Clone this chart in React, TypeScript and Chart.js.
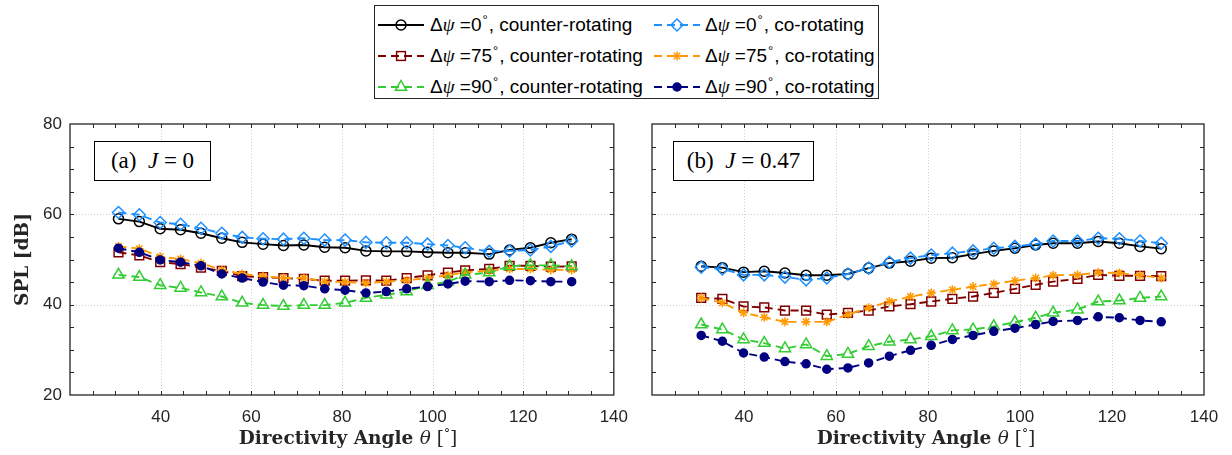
import React, { useEffect, useRef } from "react";
import { Chart, registerables } from "chart.js";
Chart.register(...registerables);

// ---------- data ----------
const THETA = [30.7, 35.3, 39.9, 44.4, 48.9, 53.5, 58.0, 62.6, 67.1, 71.6, 76.2, 80.7, 85.3, 89.8, 94.3, 98.9, 103.4, 107.2, 112.5, 117.0, 121.6, 126.1, 130.7];

const X_TICKS = [20, 40, 60, 80, 100, 120, 140];
const Y_TICKS = [20, 40, 60, 80];
const MINOR_STEP = 5;

// (a) J = 0
const A_CTR_0 = [59.0, 58.4, 56.8, 56.6, 55.8, 54.7, 53.8, 53.4, 53.1, 53.2, 52.7, 52.6, 51.9, 51.8, 51.8, 51.6, 51.5, 51.5, 51.2, 52.1, 52.6, 53.7, 54.5];
const A_CO_0 = [60.4, 59.9, 58.2, 57.8, 56.9, 55.8, 54.9, 54.6, 54.5, 54.7, 54.3, 54.3, 53.8, 53.7, 53.7, 53.4, 53.1, 52.6, 51.8, 51.9, 52.1, 52.9, 54.1];
const A_CTR_75 = [51.6, 50.9, 49.4, 49.0, 48.2, 47.5, 46.3, 46.1, 45.9, 45.7, 45.3, 45.3, 45.4, 45.3, 45.9, 46.5, 47.1, 47.6, 47.9, 48.6, 48.6, 48.4, 48.5];
const A_CO_75 = [52.9, 52.4, 50.6, 50.1, 49.2, 47.7, 46.8, 46.3, 45.9, 45.9, 45.1, 45.0, 44.8, 45.1, 45.4, 45.9, 46.5, 47.2, 47.5, 47.9, 47.9, 47.7, 47.7];
const A_CTR_90 = [46.6, 46.1, 44.3, 43.7, 42.7, 41.8, 40.4, 39.9, 39.7, 39.9, 39.9, 40.4, 41.5, 42.2, 42.9, 44.3, 45.1, 46.6, 47.1, 48.5, 48.7, 48.7, 48.5];
const A_CO_90 = [52.5, 51.6, 49.9, 49.4, 48.6, 46.8, 45.9, 45.0, 44.3, 44.2, 43.5, 43.2, 42.6, 42.9, 43.5, 44.0, 44.6, 45.2, 45.1, 45.4, 45.3, 45.1, 45.1];

// (b) J = 0.47
const B_CTR_0 = [48.5, 48.2, 47.2, 47.4, 47.0, 46.5, 46.5, 46.8, 48.1, 49.2, 49.6, 50.3, 50.4, 51.2, 51.9, 52.5, 53.2, 53.6, 53.6, 54.0, 53.6, 52.9, 52.4];
const B_CO_0 = [48.3, 47.9, 46.6, 46.6, 46.1, 45.5, 45.9, 46.8, 48.1, 49.4, 50.3, 51.0, 51.4, 51.9, 52.5, 52.9, 53.4, 54.1, 54.1, 54.7, 54.6, 54.1, 53.6];
const B_CTR_75 = [41.5, 41.3, 39.6, 39.4, 38.7, 38.7, 37.8, 38.2, 38.7, 39.6, 40.1, 40.7, 41.3, 41.8, 42.6, 43.5, 44.4, 45.1, 45.7, 46.6, 46.4, 46.4, 46.3];
const B_CO_75 = [41.5, 40.4, 38.2, 37.2, 36.2, 36.2, 36.2, 37.8, 39.3, 40.7, 41.8, 42.6, 43.3, 44.0, 44.6, 45.3, 45.9, 46.5, 46.6, 47.1, 47.0, 46.5, 45.9];
const B_CTR_90 = [35.6, 34.5, 32.3, 31.5, 30.3, 31.2, 28.6, 29.1, 30.8, 31.8, 32.3, 33.0, 34.3, 34.5, 35.2, 36.1, 37.1, 38.2, 38.9, 40.7, 40.9, 41.5, 41.8];
const B_CO_90 = [33.2, 31.9, 29.3, 28.4, 27.4, 26.9, 25.7, 26.0, 27.1, 28.6, 29.9, 31.0, 32.3, 33.2, 34.1, 34.8, 35.6, 36.3, 36.5, 37.3, 37.1, 36.5, 36.2];

const SERIES_ANGLE = ["0", "0", "75", "75", "90", "90"];
const SERIES_MODE = ["counter-rotating", "co-rotating", "counter-rotating", "co-rotating", "counter-rotating", "co-rotating"];

// ---------- styles ----------
const STYLES = [
  { color: "#000000", dash: [] as number[], pointStyle: "circle", r: 5, filled: false },
  { color: "#1E90FF", dash: [8, 5], pointStyle: "rectRot", r: 6, filled: false },
  { color: "#800000", dash: [8, 5], pointStyle: "rect", r: 6.2, filled: false },
  { color: "#FF9900", dash: [8, 5], pointStyle: "star", r: 4.5, filled: false },
  { color: "#33CC33", dash: [8, 5], pointStyle: "triangle", r: 6.5, filled: false },
  { color: "#000080", dash: [8, 5], pointStyle: "circle", r: 4, filled: true },
];

const AXIS_COLOR = "#262626";
const TITLE_FAMILY = "'DejaVu Serif', 'Liberation Serif', serif";
const TITLE_SIZE = 18.5;

const matlabAxes = {
  id: "matlabAxes",
  beforeDatasetsDraw(chart: any) {
    const { ctx, chartArea: a, scales } = chart;
    const x = scales.x, y = scales.y;
    ctx.save();
    ctx.strokeStyle = "#cfcfcf";
    ctx.lineWidth = 1;
    ctx.setLineDash([1, 2]);
    X_TICKS.forEach((v) => {
      if (v <= x.min || v >= x.max) return;
      const px = Math.round(x.getPixelForValue(v)) + 0.5;
      ctx.beginPath(); ctx.moveTo(px, a.top); ctx.lineTo(px, a.bottom); ctx.stroke();
    });
    Y_TICKS.forEach((v) => {
      if (v <= y.min || v >= y.max) return;
      const py = Math.round(y.getPixelForValue(v)) + 0.5;
      ctx.beginPath(); ctx.moveTo(a.left, py); ctx.lineTo(a.right, py); ctx.stroke();
    });
    ctx.restore();
  },
  afterDatasetsDraw(chart: any) {
    const { ctx, chartArea: a, scales } = chart;
    const x = scales.x, y = scales.y;
    const L = 4;
    ctx.save();
    ctx.strokeStyle = AXIS_COLOR;
    ctx.lineWidth = 1.3;
    ctx.setLineDash([]);
    ctx.strokeRect(a.left, a.top, a.right - a.left, a.bottom - a.top);
    ctx.lineWidth = 1;
    for (let v = x.min + MINOR_STEP; v < x.max; v += MINOR_STEP) {
      const px = Math.round(x.getPixelForValue(v)) + 0.5;
      ctx.beginPath();
      ctx.moveTo(px, a.bottom); ctx.lineTo(px, a.bottom - L);
      ctx.moveTo(px, a.top); ctx.lineTo(px, a.top + L);
      ctx.stroke();
    }
    for (let v = y.min + MINOR_STEP; v < y.max; v += MINOR_STEP) {
      const py = Math.round(y.getPixelForValue(v)) + 0.5;
      ctx.beginPath();
      ctx.moveTo(a.left, py); ctx.lineTo(a.left + L, py);
      ctx.moveTo(a.right, py); ctx.lineTo(a.right - L, py);
      ctx.stroke();
    }
    ctx.restore();
  },
};

function makeDatasets(series: number[][]) {
  return series.map((vals, i) => {
    const s = STYLES[i];
    return {
      label: `Δψ =${SERIES_ANGLE[i]}°, ${SERIES_MODE[i]}`,
      data: vals.map((v, k) => ({ x: THETA[k], y: v })),
      borderColor: s.color,
      borderWidth: 1.9,
      borderDash: s.dash,
      backgroundColor: s.color,
      pointStyle: s.pointStyle,
      pointRadius: s.r,
      pointBorderWidth: 1.5,
      pointBorderColor: s.color,
      pointBackgroundColor: s.filled ? s.color : "rgba(0,0,0,0)",
      tension: 0,
      order: series.length - i,
    };
  });
}

function makeConfig(series: number[][], showY: boolean, padding: any) {
  const tickFont = { family: "'Liberation Sans', Arial, sans-serif", size: 17 };
  const titleFont = { family: TITLE_FAMILY, size: TITLE_SIZE, weight: "bold" as const };
  return {
    type: "line" as const,
    data: { datasets: makeDatasets(series) },
    options: {
      animation: false,
      responsive: false,
      maintainAspectRatio: false,
      devicePixelRatio: 1,
      layout: { padding },
      plugins: { legend: { display: false }, tooltip: { enabled: false } },
      scales: {
        x: {
          type: "linear",
          min: 20,
          max: 140,
          afterBuildTicks: (s: any) => { s.ticks = X_TICKS.map((v) => ({ value: v })); },
          ticks: {
            font: tickFont,
            color: AXIS_COLOR,
            padding: 12,
            maxRotation: 0,
            autoSkip: false,
            callback: (v: any) => (v === 20 ? "" : String(v)),
          },
          grid: { display: false, drawTicks: false },
          border: { display: false },
          afterFit: (s: any) => { s.height = 60; },
        },
        y: {
          type: "linear",
          min: 20,
          max: 80,
          display: showY,
          afterBuildTicks: (s: any) => { s.ticks = Y_TICKS.map((v) => ({ value: v })); },
          ticks: { font: tickFont, color: AXIS_COLOR, padding: 8 },
          grid: { display: false, drawTicks: false },
          border: { display: false },
          title: {
            display: showY,
            text: "SPL [dB]",
            font: titleFont,
            color: AXIS_COLOR,
            padding: { top: 12, bottom: 0 },
          },
          afterFit: (s: any) => { if (showY) s.width = 70; },
        },
      },
    },
    plugins: [matlabAxes],
  };
}

function Panel({ series, showY, padding, left, width }: any) {
  const ref = useRef<HTMLCanvasElement | null>(null);
  useEffect(() => {
    const chart = new Chart(ref.current as HTMLCanvasElement, makeConfig(series, showY, padding) as any);
    return () => chart.destroy();
  }, []);
  return (
    <canvas
      ref={ref}
      width={width}
      height={455}
      style={{ position: "absolute", left, top: 0, width, height: 455 }}
    />
  );
}

function XTitle({ left, width }: any) {
  return (
    <div
      style={{
        position: "absolute",
        left,
        width,
        top: 426,
        height: 24,
        lineHeight: "24px",
        textAlign: "center",
        fontFamily: TITLE_FAMILY,
        fontSize: TITLE_SIZE,
        color: AXIS_COLOR,
        whiteSpace: "pre",
        zIndex: 2,
      }}
    >
      <b>Directivity Angle </b>
      <i>θ</i> [<sup style={{ fontSize: 12, verticalAlign: "6px", lineHeight: 0 }}>°</sup>]
    </div>
  );
}

function Marker({ i }: { i: number }) {
  const s = STYLES[i];
  const cx = 24, cy = 10;
  const stroke = s.color;
  const common = { stroke, strokeWidth: 1.5, fill: s.filled ? s.color : "none" };
  let m: any = null;
  if (s.pointStyle === "circle") m = <circle cx={cx} cy={cy} r={s.r} {...common} />;
  else if (s.pointStyle === "rectRot") m = <polygon points={`${cx},${cy - 6} ${cx + 6},${cy} ${cx},${cy + 6} ${cx - 6},${cy}`} {...common} />;
  else if (s.pointStyle === "rect") m = <rect x={cx - 4.4} y={cy - 4.4} width={8.8} height={8.8} {...common} />;
  else if (s.pointStyle === "triangle") m = <polygon points={`${cx},${cy - 6.5} ${cx + 5.6},${cy + 3.3} ${cx - 5.6},${cy + 3.3}`} {...common} />;
  else if (s.pointStyle === "star")
    m = (
      <g stroke={stroke} strokeWidth={1.5}>
        <line x1={cx - 4.5} y1={cy} x2={cx + 4.5} y2={cy} />
        <line x1={cx} y1={cy - 4.5} x2={cx} y2={cy + 4.5} />
        <line x1={cx - 3.2} y1={cy - 3.2} x2={cx + 3.2} y2={cy + 3.2} />
        <line x1={cx - 3.2} y1={cy + 3.2} x2={cx + 3.2} y2={cy - 3.2} />
      </g>
    );
  return (
    <svg width={48} height={20} style={{ display: "block" }}>
      <line x1={1} y1={cy} x2={47} y2={cy} stroke={stroke} strokeWidth={1.9} strokeDasharray={s.dash.length ? s.dash.join(",") : undefined} />
      {m}
    </svg>
  );
}

function Legend() {
  const rowsY = [25, 56, 87];
  const colSample = [377, 653];
  const colText = [430, 705];
  const items = SERIES_ANGLE.map((ang, i) => {
    const col = i % 2;
    const row = Math.floor(i / 2);
    return (
      <React.Fragment key={i}>
        <div style={{ position: "absolute", left: colSample[col], top: rowsY[row] - 10 }}>
          <Marker i={i} />
        </div>
        <div
          style={{
            position: "absolute",
            left: colText[col],
            top: rowsY[row] - 12,
            height: 24,
            lineHeight: "24px",
            fontFamily: "'Liberation Sans', Arial, sans-serif",
            fontSize: 19,
            whiteSpace: "nowrap",
            color: "#000",
          }}
        >
          Δ<span style={{ fontFamily: "'Liberation Serif', serif", fontStyle: "italic" }}>ψ</span> ={ang}
          <sup style={{ fontSize: 13, verticalAlign: "7px", lineHeight: 0, margin: "0 1px" }}>°</sup>, {SERIES_MODE[i]}
        </div>
      </React.Fragment>
    );
  });
  return (
    <div
      style={{
        position: "absolute",
        left: 374,
        top: 5,
        width: 505,
        height: 94,
        border: "1px solid #262626",
        boxSizing: "border-box",
        background: "#fff",
        zIndex: 2,
      }}
    >
      <div style={{ position: "absolute", left: -375, top: -6 }}>{items}</div>
    </div>
  );
}

function PanelLabel({ left, top, width, height, tag, jval }: any) {
  return (
    <div
      style={{
        position: "absolute",
        left,
        top,
        width,
        height,
        boxSizing: "border-box",
        border: "1.5px solid #000",
        background: "#fff",
        display: "flex",
        alignItems: "center",
        justifyContent: "center",
        fontFamily: "'Liberation Serif', 'Times New Roman', serif",
        fontSize: 23,
        color: "#000",
        zIndex: 2,
        whiteSpace: "pre",
      }}
    >
      {tag}{"  "}<i>J</i>{" = "}{jval}
    </div>
  );
}

export default function App() {
  const seriesA = [A_CTR_0, A_CO_0, A_CTR_75, A_CO_75, A_CTR_90, A_CO_90];
  const seriesB = [B_CTR_0, B_CO_0, B_CTR_75, B_CO_75, B_CTR_90, B_CO_90];
  return (
    <div style={{ position: "fixed", left: 0, top: 0, width: 1232, height: 455, background: "#fff", overflow: "hidden" }}>
      <Panel series={seriesA} showY={true} padding={{ top: 124, left: 0, right: 14, bottom: 0 }} left={0} width={640} />
      <Panel series={seriesB} showY={false} padding={{ top: 124, left: 8, right: 28, bottom: 0 }} left={640} width={592} />
      <XTitle left={70} width={556} />
      <XTitle left={648} width={556} />
      <PanelLabel left={94} top={141} width={117} height={40} tag="(a)" jval="0" />
      <PanelLabel left={673} top={141} width={141} height={40} tag="(b)" jval="0.47" />
      <Legend />
    </div>
  );
}
